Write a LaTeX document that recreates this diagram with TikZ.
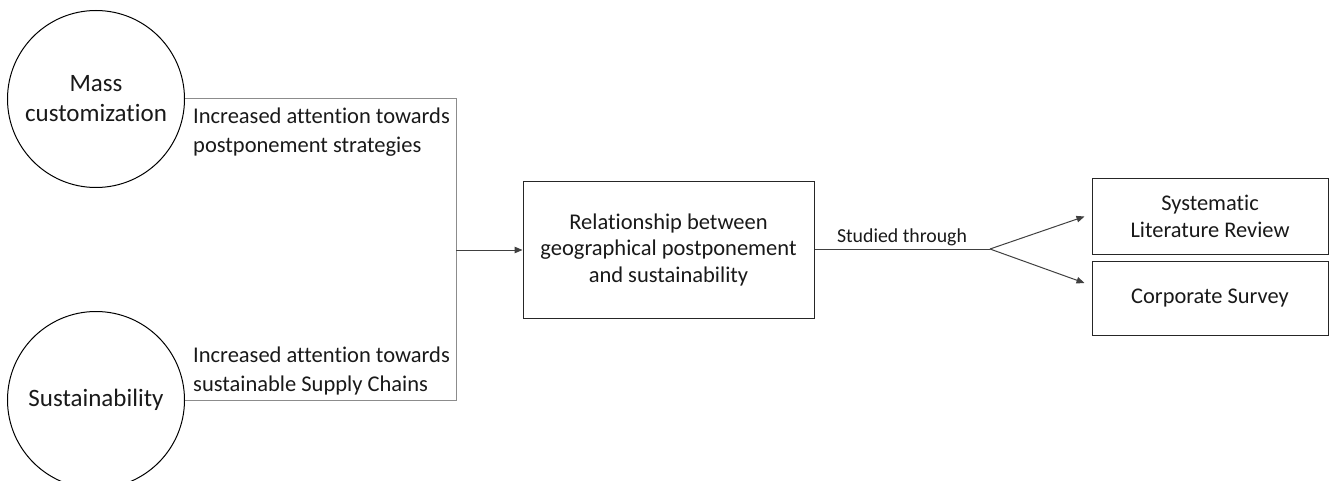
\documentclass[tikz,border=0pt]{standalone}
\usepackage{fontspec}
\setmainfont{Carlito}[Ligatures={NoCommon}]
\usetikzlibrary{arrows.meta}

\tikzset{
  topic/.style={circle, draw=black, line width=1pt, minimum size=177pt, inner sep=0pt,
    align=center, font=\fontsize{25}{30}\selectfont, text=black!90},
  topicnote/.style={align=left, inner sep=0pt, font=\fontsize{22.5}{29}\selectfont, text=black!90},
  mainbox/.style={draw=black!85, line width=1pt, minimum width=291pt, minimum height=136pt,
    align=center, inner sep=0pt, font=\fontsize{22.5}{26.5}\selectfont, text=black!90},
  methodbox/.style={draw=black!85, line width=1pt, minimum width=236pt, inner sep=0pt,
    align=center, font=\fontsize{22.4}{27}\selectfont, text=black!90},
  bracket/.style={draw=black!45, line width=1pt},
  flow/.style={draw=black!75, line width=1pt, -{Triangle[length=8pt,width=6.5pt]}},
  flowplain/.style={draw=black!75, line width=1pt},
}

\begin{document}
\begin{tikzpicture}[x=1pt, y=-1pt]
  \useasboundingbox (0,0) rectangle (1333,481);

  \begin{scope}
    \clip (0,0) rectangle (1333,481);
    % drivers
    \node[topic] (mc) at (96,99) {Mass\\customization};
    \node[topic] (sus) at (96,400) {Sustainability};
  \end{scope}

  % notes along the bracket
  \node[topicnote, anchor=west] (mcnote) at (193,132) {Increased attention towards\\postponement strategies};
  \node[topicnote, anchor=west] (susnote) at (193,371) {Increased attention towards\\sustainable Supply Chains};

  % central topic
  \node[mainbox] (rel) at (668.5,250) {Relationship between\\geographical postponement\\and sustainability};

  % research methods
  \node[methodbox, minimum height=75pt] (slr) at (1210,216.5) {Systematic\\Literature Review};
  \node[methodbox, minimum height=74pt] (cs) at (1210,298) {Corporate Survey};

  % bracket joining the drivers
  \coordinate (bt) at (456,99);
  \coordinate (bb) at (456,400);
  \coordinate (bm) at (456,250);
  \draw[bracket] (mc.east) -- (bt) -- (bb) -- (sus.east);
  \draw[flow] (bm) -- (rel.west);

  % fork towards the methods
  \coordinate (fork) at (990,249);
  \draw[flowplain] (rel.east |- fork) -- (fork);
  \draw[flow] (fork) -- ([xshift=-7pt]slr.west);
  \draw[flow] (fork) -- ([xshift=-7pt,yshift=15pt]cs.west);
  \node[anchor=center, inner sep=0pt, font=\fontsize{19.8}{24}\selectfont, text=black!90] (studied) at (902,237) {Studied through};
\end{tikzpicture}
\end{document}
